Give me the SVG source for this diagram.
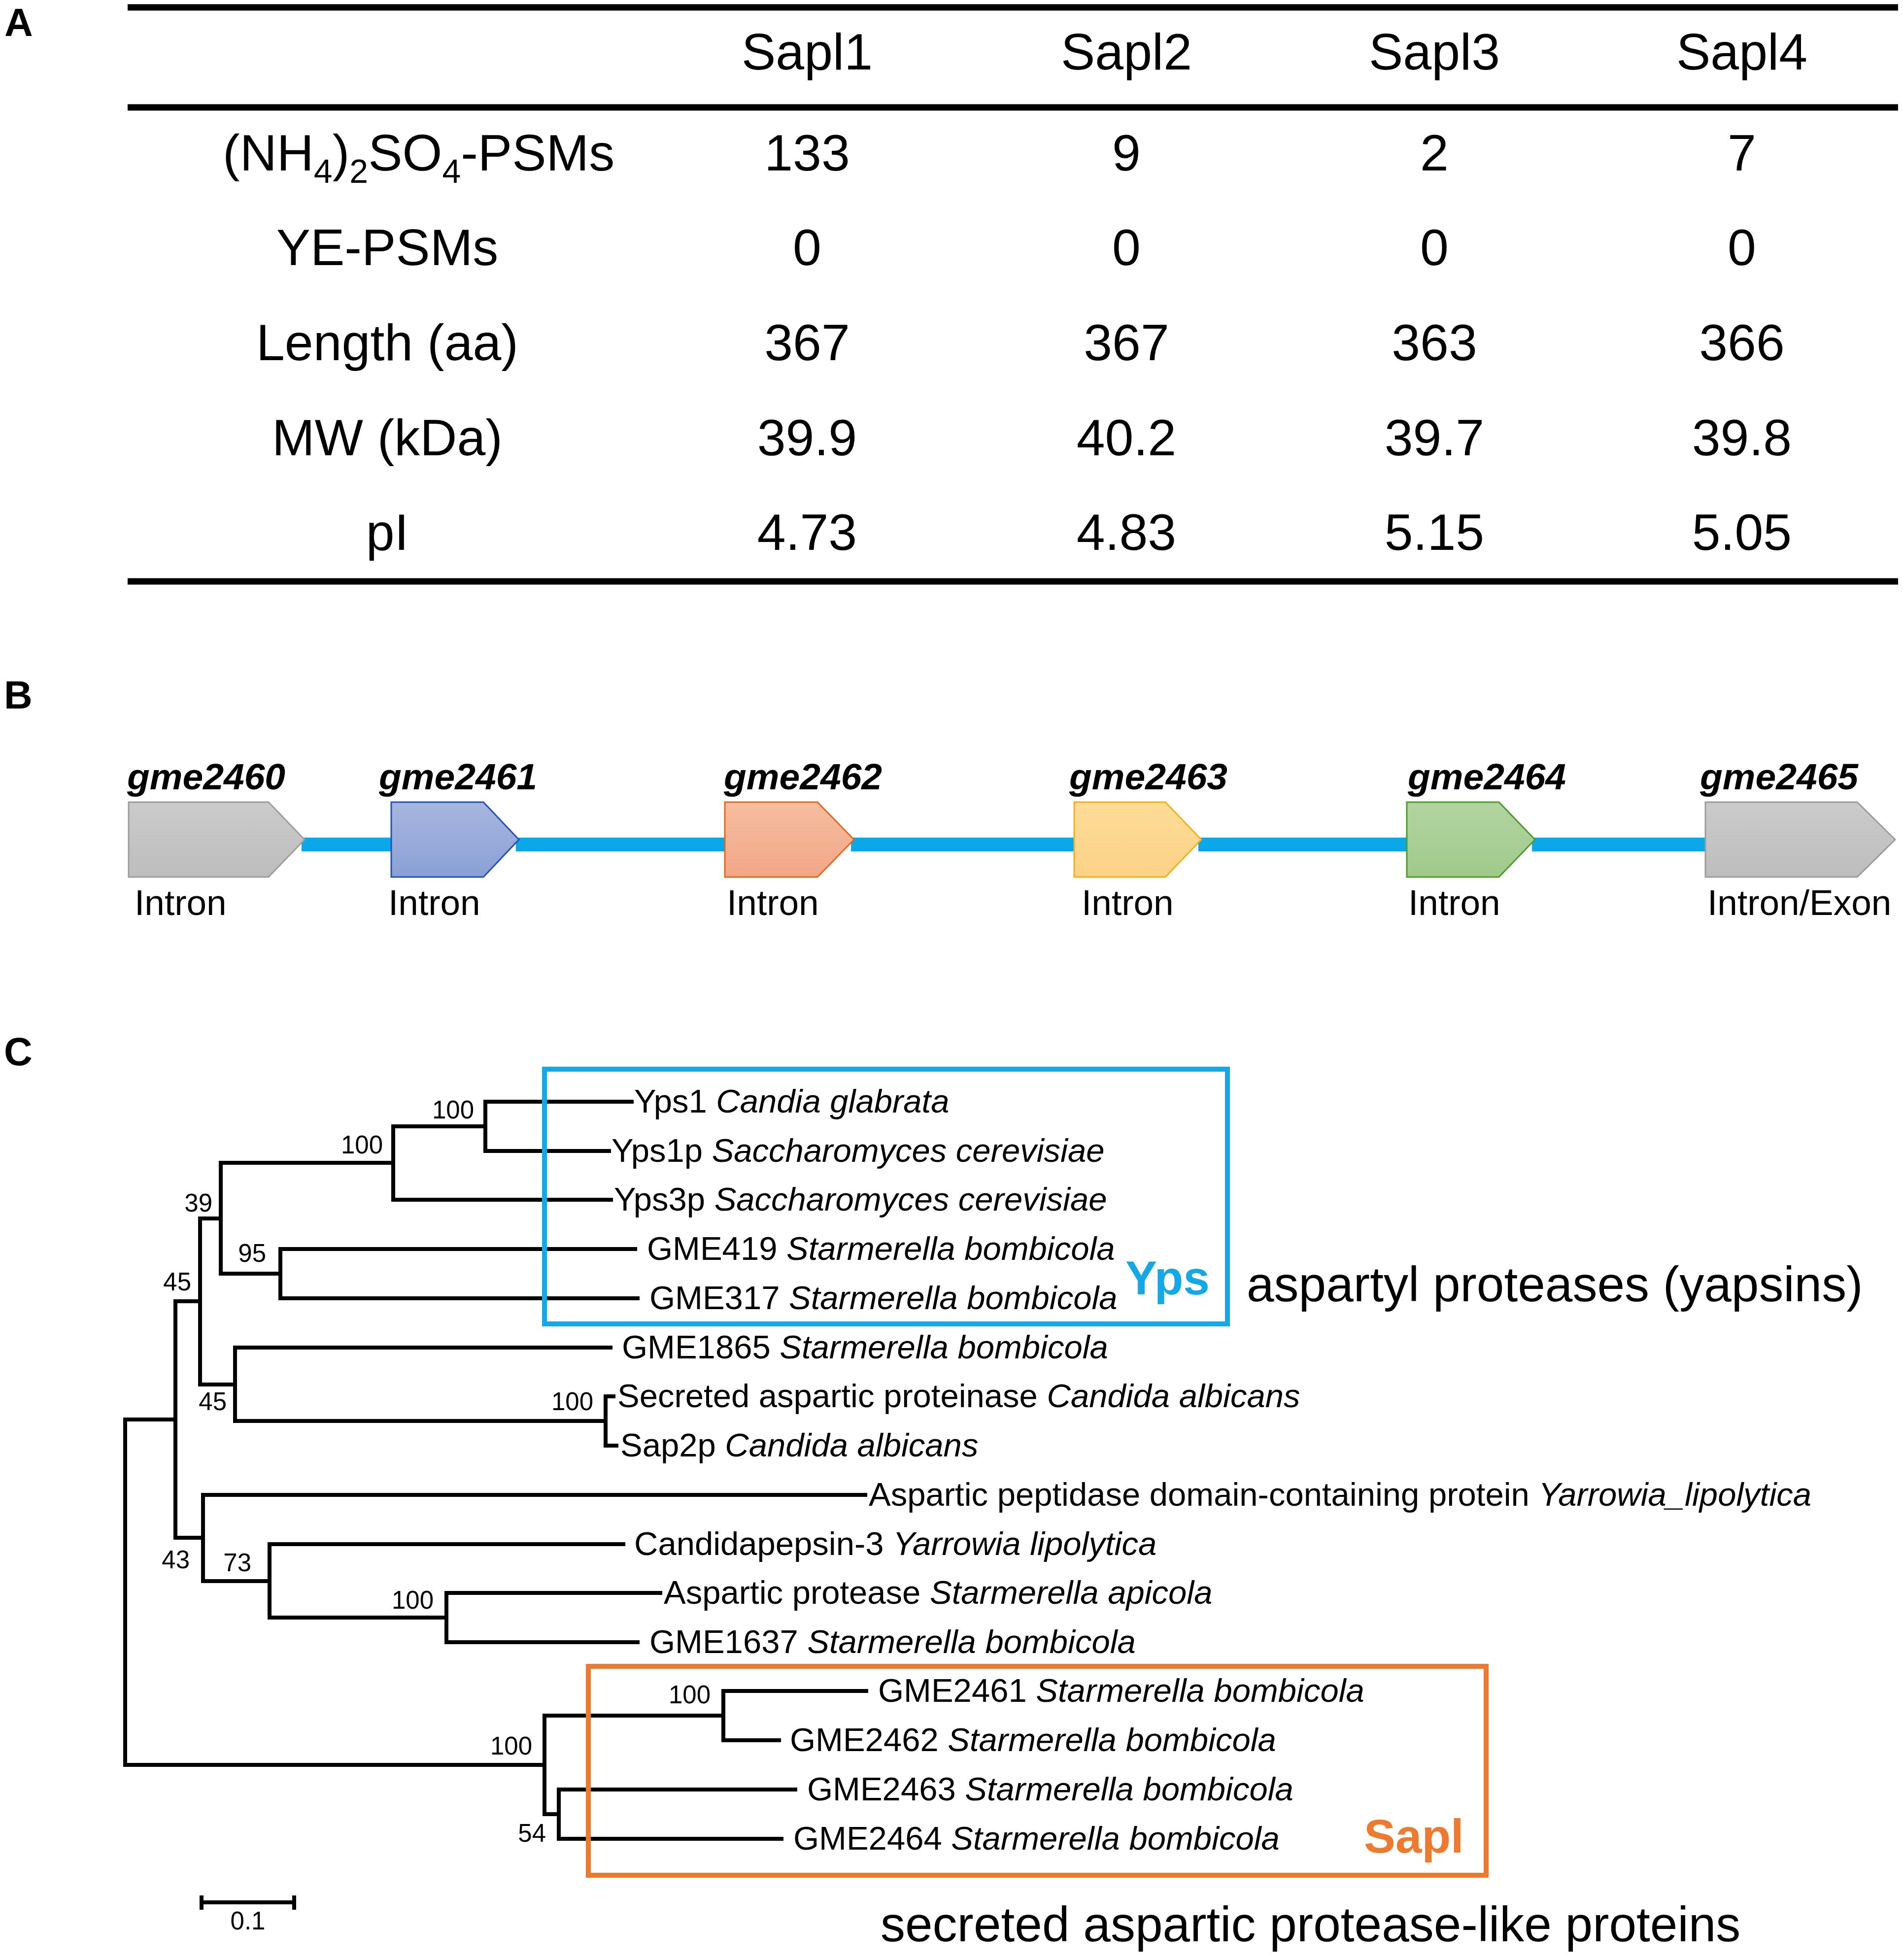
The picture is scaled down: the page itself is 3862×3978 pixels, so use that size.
<svg xmlns="http://www.w3.org/2000/svg" width="3862" height="3978" viewBox="0 0 3862 3978">
<defs>
<style>
text{font-family:"Liberation Sans",Arial,sans-serif;fill:#000}
.plab{font-size:80px;font-weight:bold}
.tbl{font-size:104px;text-anchor:middle}
.sub{font-size:68px}
.gene{font-weight:bold;font-style:italic;font-size:75px}
.intr{font-size:73px}
.leaf{font-size:67px}
.bs{font-size:51px;text-anchor:end}
.it{font-style:italic}
.rule{stroke:#000;stroke-width:13}
.br{stroke:#000;stroke-width:8;fill:none;stroke-linecap:square}
.link{stroke:#0aa8e8;stroke-width:28}
.big{font-size:100px}
.grp{font-size:96px;font-weight:bold}
</style>
<linearGradient id="gGray" x1="0" y1="0" x2="0" y2="1"><stop offset="0" stop-color="#cbcbcb"/><stop offset="1" stop-color="#bdbdbd"/></linearGradient>
<linearGradient id="gBlue" x1="0" y1="0" x2="0" y2="1"><stop offset="0" stop-color="#a7b6de"/><stop offset="1" stop-color="#8aa0d6"/></linearGradient>
<linearGradient id="gOrange" x1="0" y1="0" x2="0" y2="1"><stop offset="0" stop-color="#f5bd9f"/><stop offset="1" stop-color="#f2a787"/></linearGradient>
<linearGradient id="gYellow" x1="0" y1="0" x2="0" y2="1"><stop offset="0" stop-color="#fddc97"/><stop offset="1" stop-color="#fcd287"/></linearGradient>
<linearGradient id="gGreen" x1="0" y1="0" x2="0" y2="1"><stop offset="0" stop-color="#b3d4a1"/><stop offset="1" stop-color="#9fca8b"/></linearGradient>
</defs>
<rect width="3862" height="3978" fill="#fff"/>

<!-- Panel A -->
<g id="panelA">
<text class="plab" x="9" y="73">A</text>
<line class="rule" x1="259" y1="15" x2="3852" y2="15"/>
<line class="rule" x1="259" y1="218" x2="3852" y2="218"/>
<line class="rule" x1="259" y1="1180" x2="3852" y2="1180"/>
<g class="tbl">
<text x="1638" y="141">Sapl1</text>
<text x="2286" y="141">Sapl2</text>
<text x="2911" y="141">Sapl3</text>
<text x="3535" y="141">Sapl4</text>
<text x="452" y="346" style="text-anchor:start">(NH<tspan class="sub" dy="25">4</tspan><tspan dy="-25">)</tspan><tspan class="sub" dy="25">2</tspan><tspan dy="-25">SO</tspan><tspan class="sub" dy="25">4</tspan><tspan dy="-25">-PSMs</tspan></text>
<text x="786" y="538">YE-PSMs</text>
<text x="786" y="731">Length (aa)</text>
<text x="786" y="924">MW (kDa)</text>
<text x="786" y="1116">pI</text>
<text x="1638" y="346">133</text><text x="2286" y="346">9</text><text x="2911" y="346">2</text><text x="3535" y="346">7</text>
<text x="1638" y="538">0</text><text x="2286" y="538">0</text><text x="2911" y="538">0</text><text x="3535" y="538">0</text>
<text x="1638" y="731">367</text><text x="2286" y="731">367</text><text x="2911" y="731">363</text><text x="3535" y="731">366</text>
<text x="1638" y="924">39.9</text><text x="2286" y="924">40.2</text><text x="2911" y="924">39.7</text><text x="3535" y="924">39.8</text>
<text x="1638" y="1116">4.73</text><text x="2286" y="1116">4.83</text><text x="2911" y="1116">5.15</text><text x="3535" y="1116">5.05</text>
</g>
</g>

<!-- Panel B -->
<text class="plab" x="8" y="1438">B</text>
<g id="connectorsB">
<line class="link" x1="612" y1="1714" x2="800" y2="1714"/>
<line class="link" x1="1047" y1="1714" x2="1477" y2="1714"/>
<line class="link" x1="1727" y1="1714" x2="2186" y2="1714"/>
<line class="link" x1="2432" y1="1714" x2="2861" y2="1714"/>
<line class="link" x1="3109" y1="1714" x2="3467" y2="1714"/>
</g>
<g id="gme2460">
<path d="M261,1628H545L618,1704L545,1780H261Z" fill="url(#gGray)" stroke="#9c9c9c" stroke-width="3"/>
<text class="gene" x="258" y="1602">gme2460</text>
<text class="intr" x="273" y="1857">Intron</text>
</g>
<g id="gme2461">
<path d="M794,1628H981L1053,1704L981,1780H794Z" fill="url(#gBlue)" stroke="#2450b8" stroke-width="3"/>
<text class="gene" x="769" y="1602">gme2461</text>
<text class="intr" x="788" y="1857">Intron</text>
</g>
<g id="gme2462">
<path d="M1471,1628H1659L1733,1704L1659,1780H1471Z" fill="url(#gOrange)" stroke="#e0691f" stroke-width="3"/>
<text class="gene" x="1469" y="1602">gme2462</text>
<text class="intr" x="1475" y="1857">Intron</text>
</g>
<g id="gme2463">
<path d="M2180,1628H2365L2438,1704L2365,1780H2180Z" fill="url(#gYellow)" stroke="#efb11a" stroke-width="3"/>
<text class="gene" x="2170" y="1602">gme2463</text>
<text class="intr" x="2195" y="1857">Intron</text>
</g>
<g id="gme2464">
<path d="M2855,1628H3042L3115,1704L3042,1780H2855Z" fill="url(#gGreen)" stroke="#4f9a2c" stroke-width="3"/>
<text class="gene" x="2857" y="1602">gme2464</text>
<text class="intr" x="2858" y="1857">Intron</text>
</g>
<g id="gme2465">
<path d="M3461,1628H3769L3846,1704L3769,1780H3461Z" fill="url(#gGray)" stroke="#9c9c9c" stroke-width="3"/>
<text class="gene" x="3450" y="1602">gme2465</text>
<text class="intr" x="3465" y="1857">Intron/Exon</text>
</g>

<!-- Panel C -->
<text class="plab" x="8" y="2162">C</text>
<g id="tree-branches">
<path class="br" d="M254,2881V3582M254,2881H356M254,3582H1105"/>
<path class="br" d="M356,2641V3121M356,2641H406M356,3121H412"/>
<path class="br" d="M406,2473V2810M406,2473H448M406,2810H477"/>
<path class="br" d="M448,2360V2585M448,2360H798M448,2585H569"/>
<path class="br" d="M798,2286V2435M798,2286H985M798,2435H1240"/>
<path class="br" d="M985,2236V2336M985,2236H1282M985,2336H1236"/>
<path class="br" d="M569,2535V2635M569,2535H1289M569,2635H1294"/>
<path class="br" d="M477,2735V2884M477,2735H1239M477,2884H1229"/>
<path class="br" d="M1229,2834V2934M1229,2834H1245M1229,2934H1251"/>
<path class="br" d="M412,3034V3209M412,3034H1756M412,3209H547"/>
<path class="br" d="M547,3134V3283M547,3134H1265M547,3283H906"/>
<path class="br" d="M906,3233V3333M906,3233H1340M906,3333H1294"/>
<path class="br" d="M1105,3482V3682M1105,3482H1468M1105,3682H1134"/>
<path class="br" d="M1468,3432V3532M1468,3432H1758M1468,3532H1581"/>
<path class="br" d="M1134,3632V3732M1134,3632H1614M1134,3732H1586"/>
</g>
<g id="bootstrap">
<text class="bs" x="962" y="2270">100</text>
<text class="bs" x="777" y="2341">100</text>
<text class="bs" x="431" y="2459">39</text>
<text class="bs" x="540" y="2561">95</text>
<text class="bs" x="388" y="2619">45</text>
<text class="bs" x="460" y="2862">45</text>
<text class="bs" x="1204" y="2862">100</text>
<text class="bs" x="385" y="3183">43</text>
<text class="bs" x="510" y="3189">73</text>
<text class="bs" x="880" y="3265">100</text>
<text class="bs" x="1080" y="3561">100</text>
<text class="bs" x="1108" y="3738">54</text>
<text class="bs" x="1442" y="3457">100</text>
</g>
<g id="leaves">
<text class="leaf" x="1287" y="2258">Yps1 <tspan class="it">Candia glabrata</tspan></text>
<text class="leaf" x="1241" y="2358">Yps1p <tspan class="it">Saccharomyces cerevisiae</tspan></text>
<text class="leaf" x="1246" y="2457">Yps3p <tspan class="it">Saccharomyces cerevisiae</tspan></text>
<text class="leaf" x="1313" y="2557">GME419 <tspan class="it">Starmerella bombicola</tspan></text>
<text class="leaf" x="1318" y="2657">GME317 <tspan class="it">Starmerella bombicola</tspan></text>
<text class="leaf" x="1262" y="2757">GME1865 <tspan class="it">Starmerella bombicola</tspan></text>
<text class="leaf" x="1253" y="2856">Secreted aspartic proteinase <tspan class="it">Candida albicans</tspan></text>
<text class="leaf" x="1259" y="2956">Sap2p <tspan class="it">Candida albicans</tspan></text>
<text class="leaf" x="1763" y="3056">Aspartic peptidase domain-containing protein <tspan class="it">Yarrowia_lipolytica</tspan></text>
<text class="leaf" x="1287" y="3156">Candidapepsin-3 <tspan class="it">Yarrowia lipolytica</tspan></text>
<text class="leaf" x="1347" y="3255">Aspartic protease <tspan class="it">Starmerella apicola</tspan></text>
<text class="leaf" x="1318" y="3355">GME1637 <tspan class="it">Starmerella bombicola</tspan></text>
<text class="leaf" x="1782" y="3454">GME2461 <tspan class="it">Starmerella bombicola</tspan></text>
<text class="leaf" x="1603" y="3554">GME2462 <tspan class="it">Starmerella bombicola</tspan></text>
<text class="leaf" x="1638" y="3654">GME2463 <tspan class="it">Starmerella bombicola</tspan></text>
<text class="leaf" x="1610" y="3754">GME2464 <tspan class="it">Starmerella bombicola</tspan></text>
</g>
<g id="yps-group">
<rect x="1105" y="2170" width="1386" height="517" fill="none" stroke="#14a9e6" stroke-width="10"/>
<text class="grp" x="2284" y="2627" style="fill:#14a9e6">Yps</text>
<text class="big" x="2530" y="2641">aspartyl proteases (yapsins)</text>
</g>
<g id="sapl-group">
<rect x="1194" y="3382" width="1822" height="424" fill="none" stroke="#ed7a2f" stroke-width="10"/>
<text class="grp" x="2768" y="3760" style="fill:#ed7a2f">Sapl</text>
<text class="big" x="1787" y="3940">secreted aspartic protease-like proteins</text>
</g>
<g id="scalebar">
<path class="br" d="M409,3861H597M409,3847V3876M597,3847V3876" style="stroke-linecap:butt"/>
<text x="503" y="3916" style="font-size:51px;text-anchor:middle">0.1</text>
</g>
</svg>
